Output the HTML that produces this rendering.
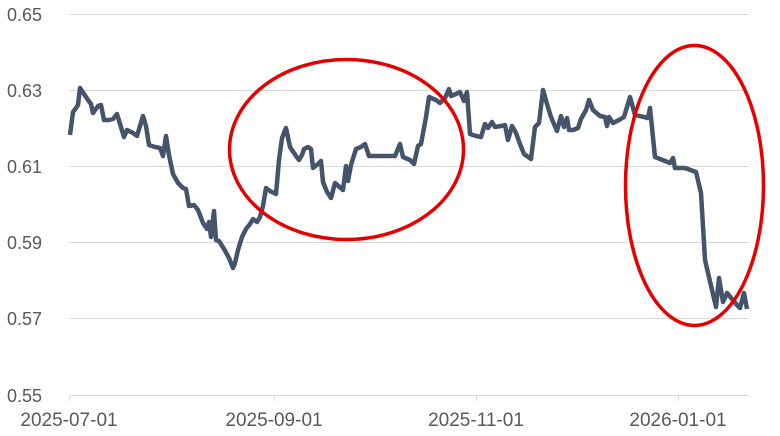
<!DOCTYPE html><html><head><style>body{margin:0;background:#fff}svg{display:block;font-family:"Liberation Sans",sans-serif}</style></head><body>
<svg width="780" height="436" viewBox="0 0 780 436">
<g stroke="#d9d9d9" stroke-width="1">
<line x1="69" x2="749" y1="14.5" y2="14.5"/><line x1="69" x2="749" y1="90.5" y2="90.5"/><line x1="69" x2="749" y1="166.5" y2="166.5"/><line x1="69" x2="749" y1="242.5" y2="242.5"/><line x1="69" x2="749" y1="318.5" y2="318.5"/><line x1="69" x2="749" y1="395.5" y2="395.5"/>
<line x1="69.5" x2="69.5" y1="395" y2="401"/><line x1="274.5" x2="274.5" y1="395" y2="401"/><line x1="476.5" x2="476.5" y1="395" y2="401"/><line x1="678.5" x2="678.5" y1="395" y2="401"/>
</g>
<g fill="#595959" font-size="18">
<text x="7" y="21">0.65</text><text x="7" y="97">0.63</text><text x="7" y="173">0.61</text><text x="7" y="249">0.59</text><text x="7" y="325">0.57</text><text x="7" y="402">0.55</text>
<g text-anchor="middle" font-size="19"><text x="69" y="426">2025-07-01</text><text x="274" y="426">2025-09-01</text><text x="476" y="426">2025-11-01</text><text x="678" y="426">2026-01-01</text></g>
</g>
<polyline fill="none" stroke="#44546a" stroke-width="4.5" stroke-linejoin="round" points="70,135 73,112 76,108 78,105 80,88 84,94 88,100 91,104 93,113 98,106 101,105 104,120 109,120 113,119 117,114 120,124 124,137 127,130 133,133 137,136 143,116 146,126 149,145 155,147 160,148 163,156 166,136 169,155 173,174 178,183 183,188 186,189 189,206 194,205 198,210 203,223 207,229 209,222 211,237 214,211 216,240 219,241 224,249 229,258 233,268 235,263 238,250 242,237 246,229 250,224 253,219 257,222 260,217 263,206 266,188 270,191 276,194 279,160 282,138 286,128 290,147 296,156 299,160 302,155 304,149 308,147 311,149 313,168 318,164 321,161 323,182 327,192 331,198 335,183 343,190 346,166 348,181 351,165 356,149 361,147 365,144 369,156 380,156 395,156 400,144 403,157 410,160 414,164 418,146 421,144 426,117 429,97 436,100 440,103 445,98 449,89 451,96 456,94 460,92 464,101 467,92 470,134 476,136 481,137 485,124 488,128 492,122 495,127 501,126 505,125 508,140 512,126 516,133 520,144 524,154 531,159 535,127 539,123 543,90 547,104 551,117 557,131 561,116 564,127 567,118 569,130 573,130 578,128 581,119 586,110 589,100 593,110 600,116 605,117 607,126 609,117 613,123 619,120 624,117 630,97 635,115 648,118 650,108 655,157 670,163 673,158 675,168 685,168 696,172 701,193 705,260 716,307 719,278 723,302 727,293 737,305 740,308 744,293 747,309"/>
<ellipse cx="346.5" cy="149.5" rx="117" ry="90" fill="none" stroke="#e60000" stroke-width="3.5"/>
<ellipse cx="694.5" cy="185.5" rx="69" ry="140" fill="none" stroke="#e60000" stroke-width="3.5"/>
</svg></body></html>
